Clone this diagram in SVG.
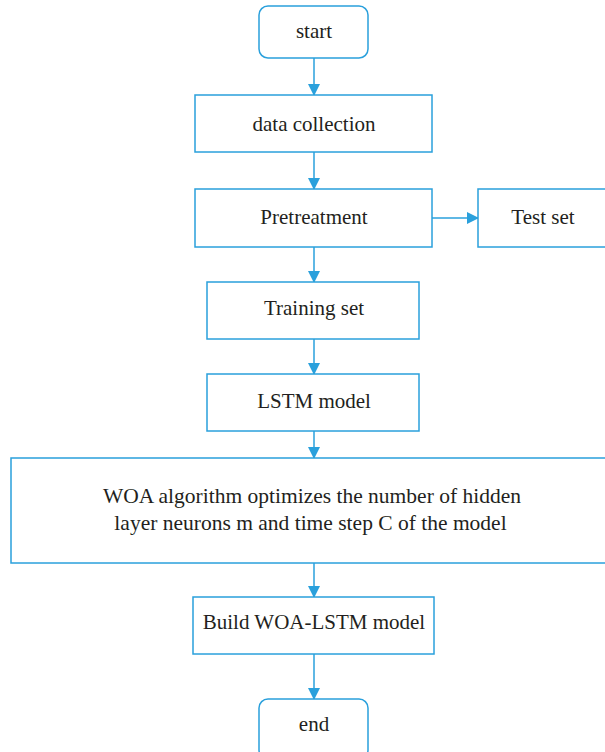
<svg xmlns="http://www.w3.org/2000/svg" width="605" height="752" viewBox="0 0 605 752">
<style>
.box{fill:#fff;stroke:#2aa0dc;stroke-width:1.5}
.t{font-family:"Liberation Serif",serif;font-size:21px;fill:#231f20;text-anchor:middle}
.w{font-size:21.5px}
.c{stroke:#2aa0dc;stroke-width:1.5;fill:none;marker-end:url(#ah)}
</style>
<defs>
<marker id="ah" markerWidth="12" markerHeight="12" refX="11" refY="6" orient="auto" markerUnits="userSpaceOnUse">
<path d="M0,0 L12,6 L0,12 Z" fill="#2aa0dc"/>
</marker>
</defs>
<rect width="605" height="752" fill="#fff"/>
<g id="connectors">
<line class="c" x1="314" y1="58" x2="314" y2="95"/>
<line class="c" x1="314" y1="152" x2="314" y2="189"/>
<line class="c" x1="432" y1="218" x2="478" y2="218"/>
<line class="c" x1="314" y1="247" x2="314" y2="282"/>
<line class="c" x1="314" y1="339" x2="314" y2="374"/>
<line class="c" x1="314" y1="431" x2="314" y2="458"/>
<line class="c" x1="314" y1="563" x2="314" y2="597"/>
<line class="c" x1="314" y1="654" x2="314" y2="699"/>
</g>
<g id="start"><rect class="box" x="259" y="6" width="109" height="52" rx="9"/><text class="t" x="314" y="38">start</text></g>
<g id="data"><rect class="box" x="195" y="95" width="237" height="57"/><text class="t" x="314" y="131">data collection</text></g>
<g id="pre"><rect class="box" x="195" y="189" width="237" height="58"/><text class="t" x="314" y="224">Pretreatment</text></g>
<g id="test"><rect class="box" x="478" y="189" width="140" height="58"/><text class="t" x="543" y="224">Test set</text></g>
<g id="train"><rect class="box" x="207" y="282" width="212" height="57"/><text class="t" x="314" y="315">Training set</text></g>
<g id="lstm"><rect class="box" x="207" y="374" width="212" height="57"/><text class="t" x="314" y="408">LSTM model</text></g>
<g id="woa"><rect class="box" x="11" y="458" width="610" height="105"/><text class="t w" x="312" y="503">WOA algorithm optimizes the number of hidden</text><text class="t w" x="310.5" y="530">layer neurons m and time step C of the model</text></g>
<g id="build"><rect class="box" x="193" y="597" width="241" height="57"/><text class="t" x="314" y="629">Build WOA-LSTM model</text></g>
<g id="end"><rect class="box" x="259" y="699" width="109" height="60" rx="9"/><text class="t" x="314" y="731">end</text></g>
</svg>
